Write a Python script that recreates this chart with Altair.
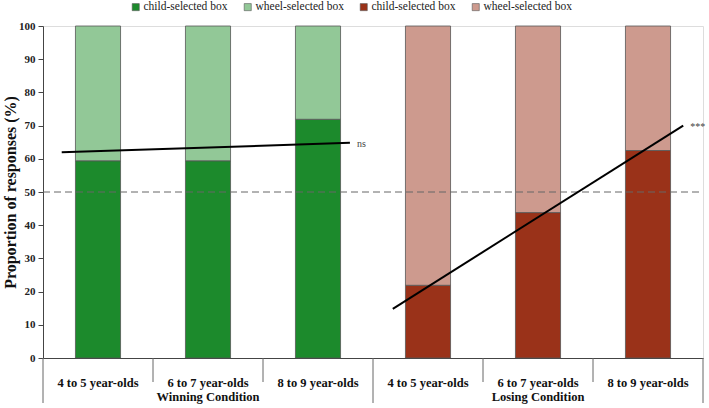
import altair as alt
import pandas as pd

# Categories
conditions = ["Winning Condition", "Losing Condition"]
ages = ["4 to 5 year-olds", "6 to 7 year-olds", "8 to 9 year-olds"]

# Percentage of child-selected box choices per age group
child_win = [59.4, 59.4, 71.9]
child_lose = [21.9, 43.8, 62.5]

# Fitted trend lines (start / end on the slot axis, and percentage)
win_trend_x = [0.17, 2.79]
win_trend_y = [62.0, 64.8]
lose_trend_x = [3.18, 5.82]
lose_trend_y = [14.8, 70.0]
sig_labels = ["ns", "***"]

y_ticks = [0, 10, 20, 30, 40, 50, 60, 70, 80, 90, 100]

series_keys = ["win_child", "win_wheel", "lose_child", "lose_wheel"]
series_names = ["child-selected box", "wheel-selected box",
                "child-selected box", "wheel-selected box"]
series_colors = ["#1c8a2c", "#92c897", "#9a3219", "#cd9a8e"]

SERIF = "Liberation Serif"
BAR_HALF = 0.205

rows = []
for ci, (cond, vals) in enumerate(zip(conditions, [child_win, child_lose])):
    prefix = "win" if ci == 0 else "lose"
    for ai, (age, v) in enumerate(zip(ages, vals)):
        slot = ci * 3 + ai + 0.5
        rows.append(dict(key=f"{prefix}_child", x0=slot - BAR_HALF, x1=slot + BAR_HALF, y0=0, y1=v))
        rows.append(dict(key=f"{prefix}_wheel", x0=slot - BAR_HALF, x1=slot + BAR_HALF, y0=v, y1=100))
bars_df = pd.DataFrame(rows)

label_expr = " : ".join(
    [f"datum.value == '{k}' ? '{n}'" for k, n in zip(series_keys[:-1], series_names[:-1])]
) + f" : '{series_names[-1]}'"

xscale = alt.Scale(domain=[0, 6], nice=False, zero=False)
yscale = alt.Scale(domain=[0, 100], nice=False)

bars = alt.Chart(bars_df).mark_bar(stroke="#555555", strokeWidth=0.8).encode(
    x=alt.X("x0:Q", scale=xscale,
            axis=alt.Axis(labels=False, ticks=False, grid=False, title=None,
                          domainColor="#444", domainWidth=1)),
    x2="x1:Q",
    y=alt.Y("y0:Q", scale=yscale,
            axis=alt.Axis(values=y_ticks, tickCount=11, labelOverlap=False, grid=False,
                          title="Proportion of responses (%)",
                          titleFont=SERIF, titleFontSize=16, titleFontWeight="bold",
                          titleColor="#111", titlePadding=0,
                          labelFont=SERIF, labelFontSize=11, labelFontWeight="bold",
                          labelColor="#222", labelPadding=3,
                          tickSize=5, tickColor="#444", domainColor="#444")),
    y2="y1:Q",
    color=alt.Color("key:N",
                    scale=alt.Scale(domain=series_keys, range=series_colors),
                    legend=alt.Legend(title=None, orient="none", direction="horizontal",
                                      legendX=87, legendY=-25,
                                      symbolType="square", symbolSize=50,
                                      symbolStrokeColor="#555", symbolStrokeWidth=0.6,
                                      labelFont=SERIF, labelFontSize=11.5,
                                      labelColor="#222", labelOffset=2,
                                      columnPadding=14, labelExpr=label_expr)),
)

ref_df = pd.DataFrame({"y": [50], "xa": [0], "xb": [5.97]})
ref50 = alt.Chart(ref_df).mark_rule(color="#666", strokeDash=[7, 4], strokeWidth=1).encode(
    x=alt.X("xa:Q", scale=xscale), x2="xb:Q", y=alt.Y("y:Q", scale=yscale)
)

trend_df = pd.DataFrame({
    "xa": [win_trend_x[0], lose_trend_x[0]],
    "xb": [win_trend_x[1], lose_trend_x[1]],
    "ya": [win_trend_y[0], lose_trend_y[0]],
    "yb": [win_trend_y[1], lose_trend_y[1]],
    "sig": sig_labels,
})
trends = alt.Chart(trend_df).mark_rule(color="#000", strokeWidth=2).encode(
    x=alt.X("xa:Q", scale=xscale), x2="xb:Q",
    y=alt.Y("ya:Q", scale=yscale), y2="yb:Q",
)
sig = alt.Chart(trend_df).mark_text(font=SERIF, fontSize=10, color="#444",
                                    align="left", baseline="middle", dx=7, dy=1).encode(
    x=alt.X("xb:Q", scale=xscale), y=alt.Y("yb:Q", scale=yscale), text="sig:N"
)

# Two-level category axis drawn beneath the plot
age_df = pd.DataFrame({
    "slot": [i + 0.5 for i in range(6)],
    "label": ages * 2,
})
age_text = alt.Chart(age_df).mark_text(font=SERIF, fontSize=12.5, fontWeight="bold",
                                       color="#111", baseline="middle").encode(
    x=alt.X("slot:Q", scale=xscale), y=alt.value(357), text="label:N"
)
cond_df = pd.DataFrame({"slot": [1.5, 4.5], "label": conditions})
cond_text = alt.Chart(cond_df).mark_text(font=SERIF, fontSize=12.5, fontWeight="bold",
                                         color="#111", baseline="middle").encode(
    x=alt.X("slot:Q", scale=xscale), y=alt.value(371), text="label:N"
)
short_df = pd.DataFrame({"pos": [1, 2, 4, 5]})
short_sep = alt.Chart(short_df).mark_rule(color="#666", strokeWidth=1).encode(
    x=alt.X("pos:Q", scale=xscale), y=alt.value(332), y2=alt.value(356)
)
long_df = pd.DataFrame({"pos": [0, 3, 6]})
long_sep = alt.Chart(long_df).mark_rule(color="#666", strokeWidth=1).encode(
    x=alt.X("pos:Q", scale=xscale), y=alt.value(332), y2=alt.value(377)
)

chart = alt.layer(
    bars, ref50, trends, sig, short_sep, long_sep, age_text, cond_text
).properties(
    width=660, height=332,
    autosize=alt.AutoSizeParams(type="none"),
    padding={"left": 43, "top": 26, "right": 6, "bottom": 50},
).configure_view(stroke=None).configure_legend(
    labelFont=SERIF
).configure(background="white")

chart.save("out.html", embed_options={"renderer": "svg", "actions": False})
